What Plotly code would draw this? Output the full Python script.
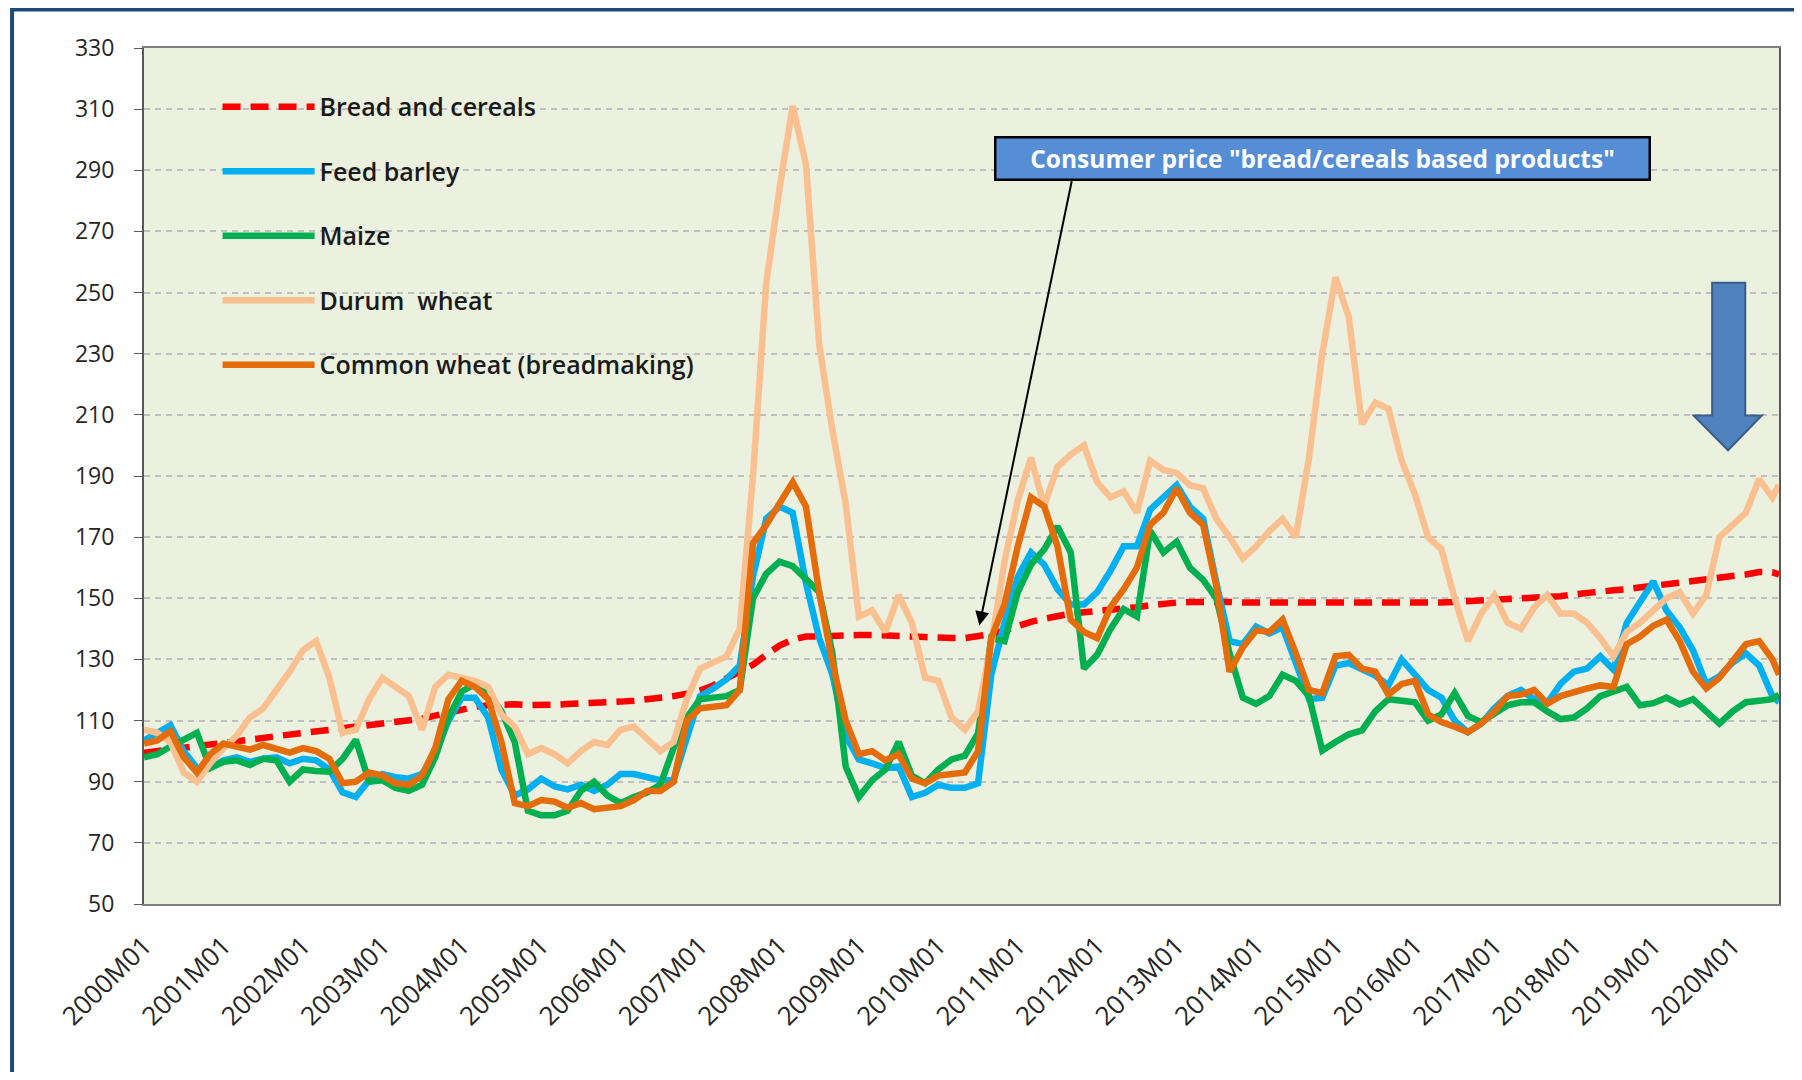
import plotly.graph_objects as go

# bimonthly readings, 2000M01 .. 2020M07, plus last month 2020M08
periods = [f"{y}M{m:02d}" for y in range(2000, 2021) for m in range(1, 13, 2)][:124] + ["2020M08"]
x_idx = [(int(p[:4]) - 2000) * 12 + int(p[5:]) - 1 for p in periods]

tick_labels = [f"{y}M01" for y in range(2000, 2021)]
tick_idx = [(y - 2000) * 12 for y in range(2000, 2021)]

bread_cereals = [
    99.5, 100, 100.4, 101, 101.3, 101.8, 102.3, 103, 103.6, 104.3,
    104.9, 105.4, 105.9, 106.3, 106.7, 107.1, 107.7, 108.4, 108.9, 109.4,
    109.8, 110.6, 111.6, 112.6, 113.7, 114.5, 115, 115.3, 115.3, 115.1,
    115, 115.2, 115.4, 115.5, 115.7, 115.9, 116.2, 116.5, 116.9, 117.4,
    118, 118.8, 119.8, 121.5, 123.8, 126, 128.3, 131.5, 134.5, 136.5,
    137.5, 137.5, 137.8, 138, 138, 138, 138, 137.8, 137.5, 137.3,
    137, 137, 137, 137.5, 138.3, 139.5, 141, 142.3, 143.3, 144.3,
    145, 145.4, 145.7, 146.2, 146.7, 147.1, 147.7, 148.3, 148.6, 148.8,
    148.9, 148.9, 148.8, 148.6, 148.6, 148.5, 148.5, 148.5, 148.5, 148.4,
    148.4, 148.3, 148.3, 148.2, 148.2, 148.3, 148.4, 148.5, 148.6, 148.8,
    149, 149.1, 149.3, 149.5, 149.6, 149.8, 150.1, 150.7, 151.3, 151.9,
    152.3, 152.6, 153, 153.5, 154, 154.8, 155.5, 156, 156.4, 156.9,
    157.3, 157.8, 158.6, 158.5, 157.8,
]

feed_barley = [
    103.5, 106, 108.5, 100, 94.5, 94.5, 97, 98, 96.5, 97.5,
    98, 96, 97.5, 97, 94, 86.5, 85, 90.5, 92.5, 91.5,
    91, 92.5, 99.5, 110, 117.5, 117.5, 111, 94, 85.5, 87.5,
    91, 88.5, 87.5, 89, 87, 89, 92.5, 92.5, 91.5, 90.5,
    90.5, 104, 118, 120.5, 123.5, 128, 157, 176, 180, 178,
    155, 137, 125, 105, 97.3, 96, 94.5, 95, 85, 86.4,
    89, 88, 88, 89.5, 125, 142, 157, 165, 161, 153,
    148, 148, 152, 159, 167, 167, 179, 183, 187, 180,
    176, 155, 136, 135, 140.7, 138.5, 140.5, 129, 117, 117.5,
    128, 128.8, 127, 124.7, 121.5, 130, 125, 120, 117.5, 110,
    106.2, 109, 114, 118, 120, 117, 115.8, 122, 126, 127,
    131, 126.6, 142, 149, 155.5, 146, 140.5, 133, 122, 124.5,
    129, 132, 128, 118, 116,
]

maize = [
    98, 99, 101.5, 104, 106, 94.5, 96.5, 97, 95.5, 97.5,
    97, 90, 94, 93.5, 93.3, 97.5, 103.7, 90, 90.5, 88,
    87, 89, 98, 111, 119.5, 122, 119, 113, 103, 80.5,
    79, 79, 80.5, 87, 90, 85.5, 83, 85, 86.5, 89,
    101, 111, 117, 117.5, 118, 120, 150, 158, 162, 160.5,
    156, 152, 132, 95, 85, 90.5, 94, 103, 92, 89.5,
    94, 97.3, 98.5, 105.8, 137, 136, 152, 161, 166, 173.5,
    165, 127, 131.5, 140, 146.5, 144, 172, 165, 168.5, 160,
    156, 150, 132, 117.5, 115.5, 118, 125, 123, 118, 100.2,
    103, 105.5, 106.8, 113, 117, 116.5, 116, 110, 112, 119,
    111.5, 109.5, 112, 115, 116, 116, 113, 110.5, 111, 114,
    118, 119.5, 121, 115, 115.7, 117.5, 115.3, 117, 113, 109,
    113, 116, 116.5, 117, 118.5,
]

durum_wheat = [
    107, 106, 103, 93, 90, 96, 101, 105, 111, 114,
    120, 126, 133, 136, 124, 106, 107, 117, 124, 121,
    118, 107, 121, 125, 124, 123, 121, 112, 108, 99,
    101, 99, 96, 100, 103, 102, 107, 108, 104, 100,
    103, 117, 127, 129, 131, 140, 190, 253, 284, 311,
    292, 233, 205, 181, 144, 146, 139, 151, 142, 124,
    123, 111, 107, 113, 135, 162, 182, 196, 180, 193,
    197, 200, 188, 183, 185, 178, 195, 192, 191, 187,
    186, 176, 170, 163, 167, 172, 176, 170, 196, 230,
    255, 242, 207, 214, 212, 195, 184, 170, 166, 150,
    136, 145, 151, 142, 140, 147, 151, 145, 145, 142,
    137, 131, 139, 142, 146, 150, 152, 145, 151, 170,
    174, 178, 189, 183, 187,
]

common_wheat = [
    102.5, 103.5, 106.5, 98, 93, 99, 102.5, 101.5, 100.5, 102,
    100.5, 99.5, 101, 100, 97.5, 89.5, 90, 93, 92, 89.5,
    89, 92, 101, 117, 123, 121, 117, 103, 83, 82,
    84, 83.5, 81.5, 83, 81, 81.5, 82, 84, 87, 87,
    90, 110, 114, 114.5, 115, 120, 168, 174, 181, 188,
    180, 152, 129, 110, 99, 100, 97, 99, 91, 89.5,
    92, 92.5, 93, 100, 137, 148, 167, 183, 180, 167,
    143, 139, 137, 147, 153, 160, 174, 178, 186, 178,
    174, 154, 126, 134, 139.5, 139, 143, 132, 120, 119,
    131, 131.5, 127, 126, 118.5, 122, 123, 112, 109.5, 108,
    106.2, 109, 113, 118, 118.5, 120, 115.5, 118, 119.5, 120.5,
    121.5, 121, 135, 137.5, 141, 143, 136, 126, 120.5, 124,
    129.5, 135, 136, 130, 125,
]

series = [
    ("Bread and cereals", bread_cereals, "#FF0000", "18px,10px"),
    ("Feed barley", feed_barley, "#00B0F0", "solid"),
    ("Maize", maize, "#00B050", "solid"),
    ("Durum  wheat", durum_wheat, "#FAC090", "solid"),
    ("Common wheat (breadmaking)", common_wheat, "#E46C0A", "solid"),
]

fig = go.Figure()
for name, vals, color, dash in series:
    fig.add_trace(go.Scatter(
        x=x_idx, y=vals, name=name, mode="lines", legendgroup=name,
        line=dict(color=color, width=6.5, dash=dash),
    ))

# arrow from the text box to the consumer price line
fig.add_annotation(
    x=126.2, y=141.1, ax=140.2, ay=286.9, xref="x", yref="y", axref="x", ayref="y",
    text="", showarrow=True, arrowhead=2, arrowsize=1.4, arrowwidth=2, arrowcolor="black",
)
fig.add_annotation(
    x=0.7211, y=0.871, xref="paper", yref="paper", xanchor="center", yanchor="middle",
    text='<b>Consumer price "bread/cereals based products"</b>', showarrow=False,
    font=dict(family="Open Sans", size=24.5, color="white"),
    bgcolor="#558ED5", bordercolor="black", borderwidth=2.5, width=650, height=38,
)

# big blue down arrow
fig.add_shape(
    type="path", xref="x", yref="y",
    path="M 236.9,253.2 L 241.9,253.2 L 241.9,209.8 L 244.4,209.8 L 239.3,198.4 "
         "L 234.1,209.8 L 236.9,209.8 Z",
    fillcolor="#4F81BD", line=dict(color="#385D8A", width=2),
)

# outer frame
fig.add_shape(
    type="rect", xref="paper", yref="paper", x0=-0.0807, y0=-0.3, x1=1.1, y1=1.0449,
    line=dict(color="#1F497D", width=4), fillcolor="rgba(0,0,0,0)", layer="above",
)

# page has an 8px body margin, so the figure is 16px smaller than the window
fig.update_layout(
    width=1786, height=1064,
    margin=dict(l=136, r=15, t=40, b=168, autoexpand=False),
    paper_bgcolor="white", plot_bgcolor="#EBF1DE",
    font=dict(family="Open Sans", color="#262626"),
    legend=dict(
        x=0.045, y=0.958, xanchor="left", yanchor="top", bgcolor="rgba(0,0,0,0)",
        font=dict(size=25, weight=600, color="#1a1a1a"), itemwidth=92,
        tracegroupgap=29, traceorder="grouped",
    ),
    xaxis=dict(
        range=[0, 247], tickvals=tick_idx, ticktext=tick_labels, tickangle=-45,
        showgrid=False, zeroline=False, showline=True, linecolor="#7F7F7F", linewidth=2,
        mirror=True, ticks="", tickfont=dict(size=26, color="#262626"), ticklabelstandoff=14,
    ),
    yaxis=dict(
        range=[50, 330], dtick=20, tick0=50, showgrid=True, gridcolor="#BFBFBF",
        griddash="6px,5px", gridwidth=1.5, zeroline=False, showline=True,
        linecolor="#595959", linewidth=2, mirror=True, ticks="outside", ticklen=8,
        tickcolor="#595959", tickfont=dict(size=23, color="#262626"), ticklabelstandoff=15,
    ),
)

fig.write_html("out.html")
